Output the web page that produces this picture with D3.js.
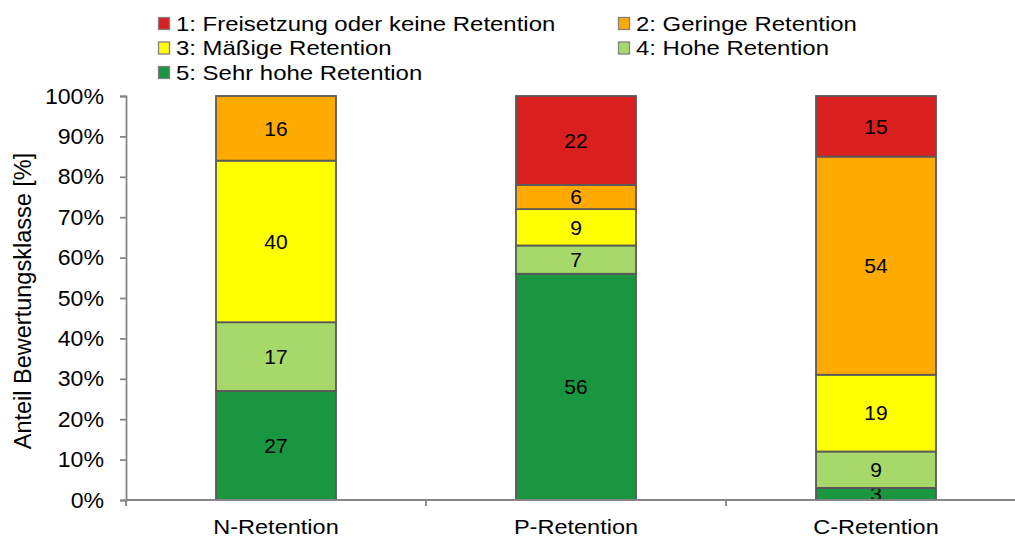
<!DOCTYPE html>
<html>
<head>
<meta charset="utf-8">
<script src="https://cdn.jsdelivr.net/npm/d3@7"></script>
<style>
  body { margin: 0; background: #fff; }
  svg { display: block; font-family: "Liberation Sans", Arial, sans-serif; }
</style>
</head>
<body>
<div id="chart"></div>
<script>
// categories and series
const categories = ['N-Retention', 'P-Retention', 'C-Retention'];
const classes = ['1: Freisetzung oder keine Retention', '2: Geringe Retention', '3: Mäßige Retention', '4: Hohe Retention', '5: Sehr hohe Retention'];
const colors = ['#DA1F1F', '#FFAA00', '#FFFF00', '#A6D96A', '#1A9641'];
// values per class, in category order
const class1 = [0, 22, 15];
const class2 = [16, 6, 54];
const class3 = [40, 9, 19];
const class4 = [17, 7, 9];
const class5 = [27, 56, 3];
const yTicks = [0, 10, 20, 30, 40, 50, 60, 70, 80, 90, 100];

const width = 1015, height = 537;
const margin = { top: 96, right: -11, bottom: 37, left: 126 };

const svg = d3.select('#chart').append('svg')
    .attr('width', width)
    .attr('height', height);

// the original text is drawn a little wider than the font, stretch it
function stretch(sel, k) {
    sel.each(function() {
        const len = this.getComputedTextLength();
        d3.select(this).attr('textLength', len * k).attr('lengthAdjust', 'spacingAndGlyphs');
    });
}

const x = d3.scaleBand()
    .domain(categories)
    .range([margin.left, width - margin.right])
    .paddingInner(0.6)
    .paddingOuter(0.3);

const xOuter = d3.scaleBand()
    .domain(categories)
    .range([margin.left, width - margin.right]);

const y = d3.scaleLinear()
    .domain([0, 100])
    .range([height - margin.bottom, margin.top]);

// stack from bottom (class 5) to top (class 1)
const series = [class5, class4, class3, class2, class1];
const seriesColors = [colors[4], colors[3], colors[2], colors[1], colors[0]];
const rows = categories.map((c, i) => {
    const r = { cat: c };
    series.forEach((s, k) => r['s' + k] = s[i]);
    return r;
});
const stack = d3.stack().keys(series.map((s, k) => 's' + k));
const stacked = stack(rows);

const groups = svg.selectAll('.layer')
    .data(stacked)
    .join('g')
    .attr('class', 'layer')
    .attr('fill', (d, k) => seriesColors[k]);

groups.selectAll('rect')
    .data(d => d.filter(p => p[1] - p[0] > 0))
    .join('rect')
    .attr('x', d => x(d.data.cat))
    .attr('width', x.bandwidth())
    .attr('y', d => y(d[1]))
    .attr('height', d => y(d[0]) - y(d[1]))
    .attr('stroke', '#595959')
    .attr('stroke-width', 1.8);

groups.selectAll('text')
    .data(d => d.filter(p => p[1] - p[0] > 0))
    .join('text')
    .attr('x', d => x(d.data.cat) + x.bandwidth() / 2)
    .attr('y', d => (y(d[0]) + y(d[1])) / 2)
    .attr('dy', '0.35em')
    .attr('text-anchor', 'middle')
    .attr('fill', '#000')
    .style('font-size', '21px')
    .text(d => d[1] - d[0]);

// y axis
const yAxis = svg.append('g')
    .attr('transform', `translate(${margin.left},0)`)
    .call(d3.axisLeft(y).tickValues(yTicks).tickFormat(d => d + '%').tickSize(6).tickPadding(16));
yAxis.select('.domain').attr('stroke', '#868686').attr('stroke-width', 1.8);
yAxis.selectAll('.tick line').attr('stroke', '#868686').attr('stroke-width', 1.8);
yAxis.selectAll('.tick text').style('font-size', '22px').attr('fill', '#000')
    .style('font-family', '"Liberation Sans", Arial, sans-serif')
    .call(stretch, 1.05);

// x axis
const xAxis = svg.append('g')
    .attr('transform', `translate(0,${height - margin.bottom})`);
xAxis.append('line')
    .attr('x1', margin.left).attr('x2', width - margin.right)
    .attr('stroke', '#868686').attr('stroke-width', 1.8);
const xBounds = categories.map(c => xOuter(c)).concat([xOuter.range()[1]]);
xAxis.selectAll('.xtick')
    .data(xBounds)
    .join('line')
    .attr('class', 'xtick')
    .attr('x1', d => d).attr('x2', d => d)
    .attr('y1', 0).attr('y2', 6)
    .attr('stroke', '#868686').attr('stroke-width', 1.8);
xAxis.selectAll('.xlabel')
    .data(categories)
    .join('text')
    .attr('class', 'xlabel')
    .attr('x', d => x(d) + x.bandwidth() / 2)
    .attr('y', 34)
    .attr('text-anchor', 'middle')
    .style('font-size', '21px')
    .text(d => d)
    .call(stretch, 1.12);

// y axis title
svg.append('text')
    .attr('transform', `translate(31,301) rotate(-90)`)
    .attr('text-anchor', 'middle')
    .style('font-size', '23.5px')
    .text('Anteil Bewertungsklasse [%]');

// legend
const legendPos = [[158, 23.5], [618, 23.5], [158, 48], [618, 48], [158, 72.5]];
const legend = svg.selectAll('.legend')
    .data(classes)
    .join('g')
    .attr('class', 'legend')
    .attr('transform', (d, i) => `translate(${legendPos[i][0]},${legendPos[i][1]})`);
legend.append('rect')
    .attr('x', 0.5).attr('y', -6)
    .attr('width', 11).attr('height', 12)
    .attr('fill', (d, i) => colors[i])
    .attr('stroke', '#808080').attr('stroke-width', 1.3);
legend.append('text')
    .attr('x', 18)
    .attr('dy', '0.35em')
    .style('font-size', '21px')
    .text(d => d)
    .call(stretch, 1.14);
</script>
</body>
</html>
